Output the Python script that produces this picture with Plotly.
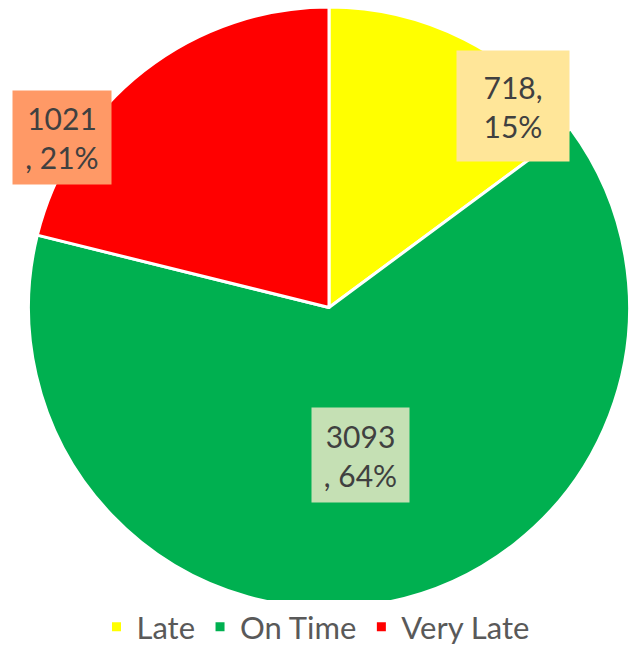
import plotly.graph_objects as go

labels = ["Late", "On Time", "Very Late"]
values = [718, 3093, 1021]
colors = ["#FFFF00", "#00B050", "#FF0000"]
box_colors = ["#FFE699", "#C5E0B4", "#FF9966"]
# label anchor positions in pixel space of the 631x647 page
label_px = [(513, 106), (360, 455), (62, 137)]

W, H = 631, 647
total = sum(values)
pcts = [round(v * 100 / total) for v in values]
texts = [
    f"{values[0]},<br>{pcts[0]}%",
    f"{values[1]}<br>, {pcts[1]}%",
    f"{values[2]}<br>, {pcts[2]}%",
]
box_sizes = [(104, 102), (89, 86), (90, 85)]

cx, cy, r = 329, 307.5, 300.5

fig = go.Figure(go.Pie(
    labels=labels, values=values, sort=False, direction="clockwise", rotation=0,
    marker=dict(colors=colors, line=dict(color="white", width=3)),
    textinfo="none", hoverinfo="label+value+percent",
    domain=dict(x=[(cx - r) / W, (cx + r) / W], y=[1 - (cy + r) / H, 1 - (cy - r) / H]),
))

for (px, py), t, bc, (bw, bh) in zip(label_px, texts, box_colors, box_sizes):
    fig.add_annotation(
        x=px / W, y=1 - py / H, xref="paper", yref="paper", text=t, showarrow=False,
        xanchor="center", yanchor="middle",
        bgcolor=bc, width=bw, height=bh, borderpad=4, align="center",
        font=dict(family="Lato, sans-serif", size=30, color="#404040"),
    )

fig.update_layout(
    width=W, height=H, margin=dict(l=0, r=0, t=0, b=0, autoexpand=False),
    paper_bgcolor="white", plot_bgcolor="white",
    legend=dict(orientation="h", x=0.5, xanchor="center", y=(H - 627) / H, yanchor="middle",
                font=dict(family="Lato, sans-serif", size=31, color="#595959"),
                itemwidth=30, traceorder="normal"),
)

fig.write_html("out.html", config={"displayModeBar": False},
               post_script="document.body.style.margin='0';document.body.style.overflow='hidden';")
